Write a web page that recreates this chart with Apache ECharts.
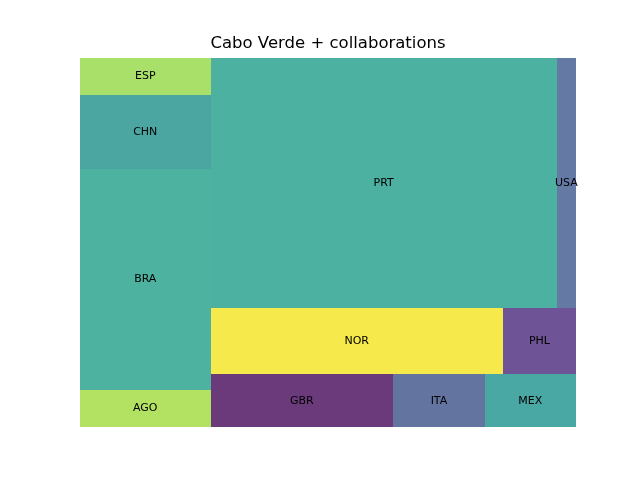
<!DOCTYPE html>
<html>
<head>
<meta charset="utf-8">
<script src="https://cdn.jsdelivr.net/npm/echarts@6/dist/echarts.min.js"></script>
<style>html,body{margin:0;padding:0;background:#fff;}#c{width:640px;height:480px;}</style>
</head>
<body>
<div id="c"></div>
<script>
const categories = ['AGO','BRA','CHN','ESP','GBR','ITA','MEX','NOR','PHL','PRT','USA'];
const values = [1, 6, 2, 1, 2, 1, 1, 4, 1, 18, 1];
const colors = ['#b3e161','#4db29f','#4ba6a2','#a8e06a','#6b3a7b','#6474a0','#4aa8a4','#f6e94b','#6e5396','#4cb1a0','#6479a4'];
const titleText = 'Cabo Verde + collaborations';

// squarify layout (same algorithm as the python squarify package)
function layoutrow(s,x,y,dx,dy){const a=s.reduce((p,q)=>p+q,0);const w=a/dy;const r=[];for(const v of s){r.push({x:x,y:y,dx:w,dy:v/w});y+=v/w;}return r;}
function layoutcol(s,x,y,dx,dy){const a=s.reduce((p,q)=>p+q,0);const h=a/dx;const r=[];for(const v of s){r.push({x:x,y:y,dx:v/h,dy:h});x+=v/h;}return r;}
function layout(s,x,y,dx,dy){return dx>=dy?layoutrow(s,x,y,dx,dy):layoutcol(s,x,y,dx,dy);}
function leftover(s,x,y,dx,dy){const a=s.reduce((p,q)=>p+q,0);if(dx>=dy){const w=a/dy;return [x+w,y,dx-w,dy];}const h=a/dx;return [x,y+h,dx,dy-h];}
function worst(s,x,y,dx,dy){return Math.max(...layout(s,x,y,dx,dy).map(r=>Math.max(r.dx/r.dy,r.dy/r.dx)));}
function squarify(s,x,y,dx,dy){
  if(s.length===0)return [];
  if(s.length===1)return layout(s,x,y,dx,dy);
  let i=1;
  while(i<s.length && worst(s.slice(0,i),x,y,dx,dy)>=worst(s.slice(0,i+1),x,y,dx,dy)) i++;
  const cur=s.slice(0,i), rem=s.slice(i);
  const lo=leftover(cur,x,y,dx,dy);
  return layout(cur,x,y,dx,dy).concat(squarify(rem,lo[0],lo[1],lo[2],lo[3]));
}
const total = values.reduce((a,b)=>a+b,0);
const norm = values.map(v=>v*100*100/total);
const rects = squarify(norm,0,0,100,100);
const data = rects.map((r,i)=>[r.x,r.y,r.dx,r.dy,categories[i],i]);

const chart = echarts.init(document.getElementById('c'), null, {renderer:'canvas'});
chart.setOption({
  animation:false,
  backgroundColor:'#ffffff',
  title:{text:titleText,left:323,top:30,textAlign:'center',
    textStyle:{fontFamily:'DejaVu Sans',fontSize:16.5,fontWeight:'normal',color:'#000'}},
  grid:{left:80,right:64,top:58,bottom:53,containLabel:false},
  xAxis:{type:'value',min:0,max:100,show:false},
  yAxis:{type:'value',min:0,max:100,show:false},
  series:[{
    type:'custom',
    data:data,
    renderItem:function(params,api){
      const x=api.value(0),y=api.value(1),dx=api.value(2),dy=api.value(3);
      const p0=api.coord([x,y+dy]);const p1=api.coord([x+dx,y]);
      const x0=Math.round(p0[0]),y0=Math.round(p0[1]),x1=Math.round(p1[0]),y1=Math.round(p1[1]);
      const idx=api.value(5);
      return {type:'group',children:[
        {type:'rect',shape:{x:x0,y:y0,width:x1-x0,height:y1-y0},style:{fill:colors[idx]}},
        {type:'text',x:(p0[0]+p1[0])/2,y:(p0[1]+p1[1])/2,style:{text:categories[idx],textAlign:'center',textVerticalAlign:'middle',fontFamily:'DejaVu Sans',fontSize:11,fill:'#000'}}
      ]};
    }
  }]
});
</script>
</body>
</html>
